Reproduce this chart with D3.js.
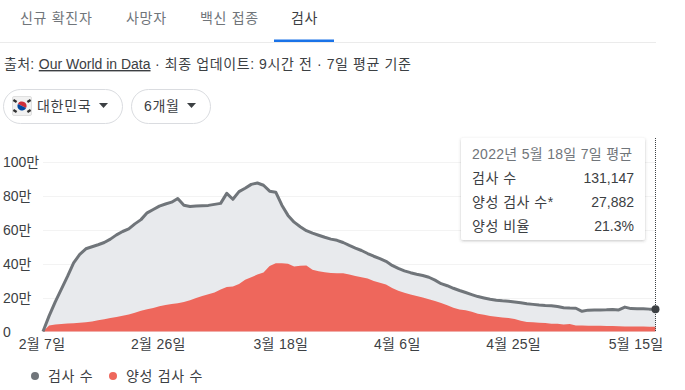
<!DOCTYPE html>
<html>
<head>
<meta charset="utf-8">
<script src="https://cdn.jsdelivr.net/npm/d3@7"></script>
<style>
  html, body { margin: 0; padding: 0; background: #fff; }
  svg { display: block; }
  text { font-family: "Liberation Sans", "Noto Sans CJK KR", sans-serif; }
</style>
</head>
<body>
<div id="chart"></div>
<script>
// values are in units of 10,000 (만), one per day from the start date
var startDate = "2022-02-07";
var tests = [0, 9.2, 17.5, 25, 32.5, 40.5, 45.5, 48.8, 50, 51.2, 52.5, 54.5, 57, 59, 60.5, 63.5, 66, 70, 72, 74, 75.2, 76.3, 78.5, 74.5, 73.8, 74, 74.2, 74.4, 75, 75.6, 81.5, 78, 82.5, 84.5, 86.8, 87.6, 86.3, 82.8, 82.2, 74.5, 68.5, 64.5, 61.8, 59.5, 58, 56.8, 55.6, 54.5, 53.8, 52.5, 50.8, 49.2, 47.8, 46, 44.4, 43, 41.4, 39, 37.2, 35.8, 34.7, 33.8, 33, 32, 30.3, 28.2, 27, 25.5, 24.2, 23, 21.8, 20.6, 19.8, 19, 18.5, 18.1, 17.9, 17.4, 16.9, 16.4, 16, 15.6, 15.3, 15.2, 14.7, 14, 13.8, 13.7, 11.9, 12.6, 12.7, 12.7, 12.8, 13, 12.7, 14.4, 13.5, 13.4, 13.4, 13.2, 13.1];
var positives = [0, 3.6, 4.1, 4.4, 4.7, 4.9, 5.1, 5.4, 5.9, 6.6, 7.2, 7.9, 8.6, 9.3, 10, 11, 12.2, 13.2, 13.9, 14.9, 15.6, 16.2, 16.7, 17.4, 18.4, 19.8, 21, 22, 23, 24.8, 26.3, 26.5, 28, 30.6, 32, 33.6, 34.8, 38.6, 40.2, 40.2, 40, 38.4, 38.8, 39, 36.4, 35.5, 34.9, 34.5, 34.3, 34.3, 33.6, 32.8, 32, 31.2, 29.8, 28.8, 27.8, 25.6, 24, 22.9, 21.8, 20.9, 20.1, 19, 18, 16.8, 15.5, 14, 13, 12.5, 11.6, 10.5, 9.9, 9.2, 8.7, 8.3, 7.9, 7.4, 6.4, 5.6, 5.4, 5.2, 5, 4.6, 4.5, 4.2, 4.4, 3.6, 3.5, 3.4, 3.4, 3.4, 3.3, 3.2, 3.1, 3, 3, 2.9, 2.9, 2.8, 2.8];
var yTicks = [0, 20, 40, 60, 80, 100];
var xTickDates = ["2022-02-07", "2022-02-26", "2022-03-18", "2022-04-06", "2022-04-25", "2022-05-15"];
var tabLabels = ["신규 확진자", "사망자", "백신 접종", "검사"];
var tipRows = [["검사 수", "131,147"], ["양성 검사 수*", "27,882"], ["양성 비율", "21.3%"]];
var legendLabels = ["검사 수", "양성 검사 수"];

var width = 685, height = 390;
var parseDay = d3.utcParse("%Y-%m-%d");
var t0 = parseDay(startDate);
var dates = tests.map(function (d, i) { return d3.utcDay.offset(t0, i); });

var svg = d3.select("#chart").append("svg").attr("width", width).attr("height", height);

var defs = svg.append("defs");
var shadow = defs.append("filter").attr("id", "tip-shadow")
  .attr("x", "-10%").attr("y", "-10%").attr("width", "120%").attr("height", "125%");
shadow.append("feDropShadow").attr("dx", 0).attr("dy", 1).attr("stdDeviation", 1.6)
  .attr("flood-color", "#3c4043").attr("flood-opacity", 0.3);

// tabs
var tabX = [20, 126, 200, 291];
svg.selectAll(".tab").data(tabLabels).enter().append("text")
  .attr("class", "tab")
  .attr("x", function (d, i) { return tabX[i]; })
  .attr("y", 23)
  .attr("font-size", 14)
  .attr("letter-spacing", 0.7)
  .attr("fill", function (d, i) { return i == 3 ? "#3c4043" : "#70757a"; })
  .text(function (d) { return d; });
svg.append("rect").attr("x", 0).attr("y", 42).attr("width", 656).attr("height", 1).attr("fill", "#ebebeb");
svg.append("rect").attr("x", 274).attr("y", 39.5).attr("width", 60).attr("height", 2.5).attr("fill", "#1a73e8");

// source line
var source = svg.append("text").attr("x", 4).attr("y", 69).attr("font-size", 14).attr("fill", "#3c4043");
source.append("tspan").attr("letter-spacing", 0.3).text("출처: ");
source.append("tspan").attr("text-decoration", "underline").text("Our World in Data");
source.append("tspan").attr("letter-spacing", 0.6).text(" · 최종 업데이트: 9시간 전 · 7일 평균 기준");

// dropdown pills
function pill(x, w, label, textX) {
  svg.append("rect").attr("x", x + 0.5).attr("y", 89.5).attr("width", w).attr("height", 34).attr("rx", 17)
    .attr("fill", "#fff").attr("stroke", "#dadce0");
  svg.append("text").attr("x", textX).attr("y", 111).attr("font-size", 14).attr("letter-spacing", 0.7)
    .attr("fill", "#3c4043").text(label);
  var ax = x + w - 18.5;
  svg.append("path").attr("d", d3.line()([[ax - 4.5, 103], [ax + 4.5, 103], [ax, 108]])).attr("fill", "#3c4043");
}
pill(3, 119, "대한민국", 37);
pill(131, 79, "6개월", 144);

// flag
var flag = svg.append("g").attr("transform", "translate(22,106)");
flag.append("rect").attr("x", -9.5).attr("y", -9.5).attr("width", 19).attr("height", 19).attr("rx", 1.5)
  .attr("fill", "#f1f1f1").attr("stroke", "#e0e0e0");
flag.append("path").attr("d", d3.arc()({ innerRadius: 0, outerRadius: 4.6, startAngle: -1.1, endAngle: 2.04 })).attr("fill", "#cd2e3a");
flag.append("path").attr("d", d3.arc()({ innerRadius: 0, outerRadius: 4.6, startAngle: 2.04, endAngle: 5.18 })).attr("fill", "#0047a0");
[[-7, -5], [7, -5], [-7, 5], [7, 5]].forEach(function (p) {
  flag.append("line").attr("x1", p[0] - 1.6).attr("y1", p[1] * (p[0] * p[1] > 0 ? 1.2 : 0.8))
    .attr("x2", p[0] + 1.6).attr("y2", p[1] * (p[0] * p[1] > 0 ? 0.8 : 1.2))
    .attr("stroke", "#333").attr("stroke-width", 2.4);
});

// scales
var x = d3.scaleUtc().domain([t0, dates[dates.length - 1]]).range([43, 655.5]);
var y = d3.scaleLinear().domain([0, 100]).range([331.5, 162]);

// grid
svg.append("g").selectAll("line").data(yTicks.slice(1)).enter().append("line")
  .attr("x1", 43).attr("x2", 655)
  .attr("y1", function (d) { return Math.round(y(d)) + 0.5; })
  .attr("y2", function (d) { return Math.round(y(d)) + 0.5; })
  .attr("stroke", "#f3f3f3");

// areas
var area = d3.area().x(function (d, i) { return x(dates[i]); }).y0(y(0)).y1(function (d) { return y(d); });
var line = d3.line().x(function (d, i) { return x(dates[i]); }).y(function (d) { return y(d); });
svg.append("path").datum(tests).attr("d", area).attr("fill", "#e8eaed");
svg.append("path").datum(positives).attr("d", area).attr("fill", "#ee675c");
svg.append("path").datum(tests).attr("d", line).attr("fill", "none").attr("stroke", "#70757a").attr("stroke-width", 3).attr("stroke-linejoin", "round");

// y axis labels
var yAxis = svg.append("g").attr("transform", "translate(3,0)")
  .call(d3.axisRight(y).tickValues(yTicks).tickSize(0).tickPadding(0)
    .tickFormat(function (d) { return d == 0 ? "0" : d + "만"; }));
yAxis.select(".domain").remove();
yAxis.selectAll("text").attr("font-size", 14).attr("fill", "#3c4043").attr("font-family", null).attr("dy", "0.35em");

// x axis labels
var xAxis = svg.append("g").attr("transform", "translate(-1.5,343)")
  .call(d3.axisBottom(x).tickValues(xTickDates.map(parseDay)).tickSize(0).tickPadding(0)
    .tickFormat(function (d) { return (d.getUTCMonth() + 1) + "월 " + d.getUTCDate() + "일"; }));
xAxis.select(".domain").remove();
xAxis.selectAll("text").attr("font-size", 14).attr("letter-spacing", 0.3).attr("fill", "#3c4043").attr("font-family", null).attr("dy", "0.4em");

// hover marker
var last = tests.length - 1;
svg.append("line").attr("x1", x(dates[last])).attr("x2", x(dates[last])).attr("y1", 138).attr("y2", y(0))
  .attr("stroke", "#3c4043").attr("stroke-dasharray", "1,1");
svg.append("circle").attr("cx", x(dates[last])).attr("cy", y(tests[last])).attr("r", 4).attr("fill", "#3c4043");

// tooltip
var tip = svg.append("g");
tip.append("rect").attr("x", 461).attr("y", 138).attr("width", 184).attr("height", 102).attr("rx", 2)
  .attr("fill", "#fff").attr("filter", "url(#tip-shadow)");
tip.append("text").attr("x", 472).attr("y", 159).attr("font-size", 14).attr("letter-spacing", 0.3)
  .attr("fill", "#70757a").text("2022년 5월 18일 7일 평균");
tipRows.forEach(function (r, i) {
  var ty = 183 + i * 24;
  tip.append("text").attr("x", 472).attr("y", ty).attr("font-size", 14).attr("letter-spacing", 0.5).attr("fill", "#3c4043").text(r[0]);
  tip.append("text").attr("x", 634).attr("y", ty).attr("font-size", 14).attr("fill", "#3c4043").attr("text-anchor", "end").text(r[1]);
});

// legend
var legendX = [35, 113], legendColors = ["#70757a", "#ee675c"];
legendLabels.forEach(function (l, i) {
  svg.append("circle").attr("cx", legendX[i]).attr("cy", 376).attr("r", 4).attr("fill", legendColors[i]);
  svg.append("text").attr("x", legendX[i] + 13).attr("y", 381).attr("font-size", 14).attr("letter-spacing", 0.7)
    .attr("fill", "#3c4043").text(l);
});
</script>
</body>
</html>
